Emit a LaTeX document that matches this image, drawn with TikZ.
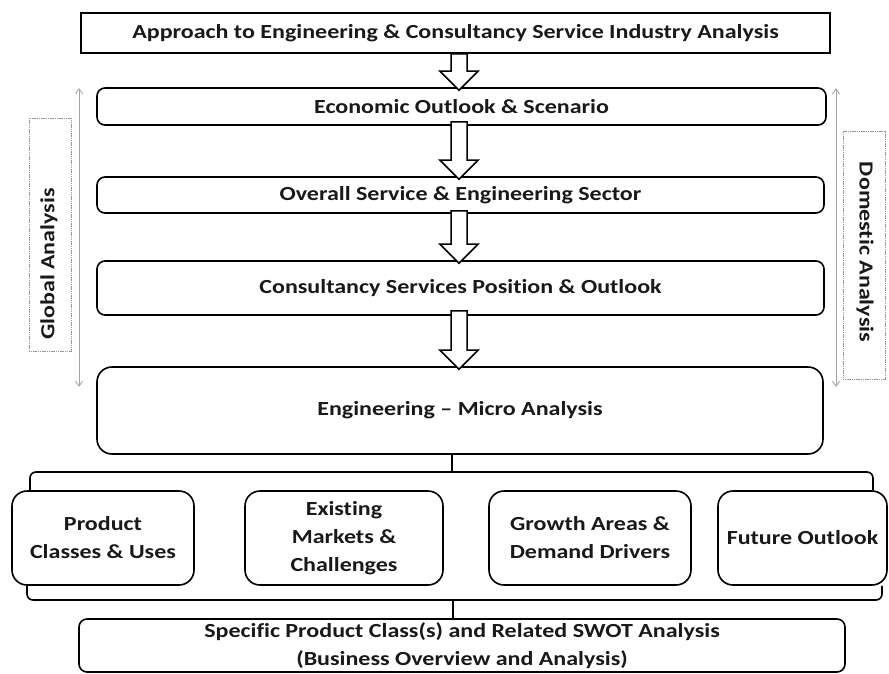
\documentclass[tikz,border=0pt]{standalone}
\usepackage{fontspec}
\setmainfont{Carlito}[FakeStretch=1.2,Ligatures=NoCommon]
\usetikzlibrary{calc,arrows.meta}
\begin{document}
\begin{tikzpicture}[x=1pt,y=-1pt,
  boxline/.style={draw=black,line width=1.6pt,fill=white,inner sep=2pt,align=center,text=black!90,font=\bfseries\fontsize{20}{28}\selectfont},
  sqbox/.style={boxline},
  rbox/.style={boxline,rounded corners=8pt},
  bigr/.style={boxline,rounded corners=15pt},
  sidebox/.style={draw=gray!80,line width=0.8pt,dash pattern=on 1.2pt off 0.6pt},
  sidetext/.style={font=\bfseries\fontsize{20}{24}\selectfont,text=black!90},
  garrow/.style={draw=gray!70,line width=0.9pt,{Straight Barb[length=5pt,width=7pt]}-{Straight Barb[length=5pt,width=7pt]}},
  blockarr/.style={draw=black,line width=1.5pt,fill=white,line join=miter},
  brace/.style={draw=black,line width=1.6pt,rounded corners=6pt}
]
\useasboundingbox (0,0) rectangle (889,673);

% main column
\node[sqbox,minimum width=749pt,minimum height=40pt] (top) at (455.5,33) {Approach to Engineering \& Consultancy Service Industry Analysis};
\node[rbox,minimum width=729pt,minimum height=37pt] (econ) at (461.5,106.5) {Economic Outlook \& Scenario};
\node[rbox,minimum width=727pt,minimum height=36pt] (overall) at (460.5,195) {Overall Service \& Engineering Sector};
\node[rbox,minimum width=727pt,minimum height=54pt] (consult) at (460.5,288) {Consultancy Services Position \& Outlook};
\node[bigr,minimum width=726pt,minimum height=87pt] (micro) at (460,410.5) {Engineering -- Micro Analysis};

% leaf boxes
\node[bigr,minimum width=182pt,minimum height=94pt] (prod) at (103,538) {Product\\Classes \& Uses};
\node[bigr,minimum width=198pt,minimum height=94pt] (exist) at (344,538) {Existing\\Markets \&\\Challenges};
\node[bigr,minimum width=202pt,minimum height=94pt] (growth) at (590,538) {Growth Areas \&\\Demand Drivers};
\node[bigr,minimum width=169pt,minimum height=94pt] (future) at (802.5,538) {Future Outlook};

\node[rbox,minimum width=766pt,minimum height=53pt] (spec) at (462,645.5) {Specific Product Class(s) and Related SWOT Analysis\\(Business Overview and Analysis)};

% block arrows
\foreach \a/\b/\g in {top/econ/0,econ/overall/4,overall/consult/3,consult/micro/5}{
  \path let \p1=(\a.south), \p2=(\b.north) in
    coordinate (s) at (459,\y1+\g) coordinate (e) at (459,\y2-3);
  \draw[blockarr] ($(s)+(-8,0)$) -- ($(s)+(8,0)$) -- ($(e)+(8,-19)$) -- ($(e)+(19,-19)$) -- (e) -- ($(e)+(-19,-19)$) -- ($(e)+(-8,-19)$) -- cycle;
}

% braces
\coordinate (bt) at (452,472);
\draw[brace] (prod.north -| 30,0) |- (bt) -| (future.north -| 873,0);
\draw[brace] (bt) -- (micro.south -| bt);
\coordinate (bb) at (453,600);
\draw[brace] (prod.south -| 27,0) |- (bb) -| (future.south -| 882,0);
\draw[brace] (bb) -- (spec.north -| bb);

% side analysis
\coordinate (gtop) at (79,88);
\coordinate (gbot) at (79,387);
\draw[garrow] (gtop) -- (gbot);
\coordinate (dtop) at (836,88);
\coordinate (dbot) at (836,387);
\draw[garrow] (dtop) -- (dbot);

\node[sidebox,minimum width=42pt,minimum height=233pt] (gbox) at (50,234.5) {};
\node[sidetext,rotate=90] (gtext) at (49,264) {Global Analysis};
\node[sidebox,minimum width=42pt,minimum height=248pt] (dbox) at (864,255) {};
\node[sidetext,rotate=-90] (dtext) at (865,252) {Domestic Analysis};
\end{tikzpicture}
\end{document}
